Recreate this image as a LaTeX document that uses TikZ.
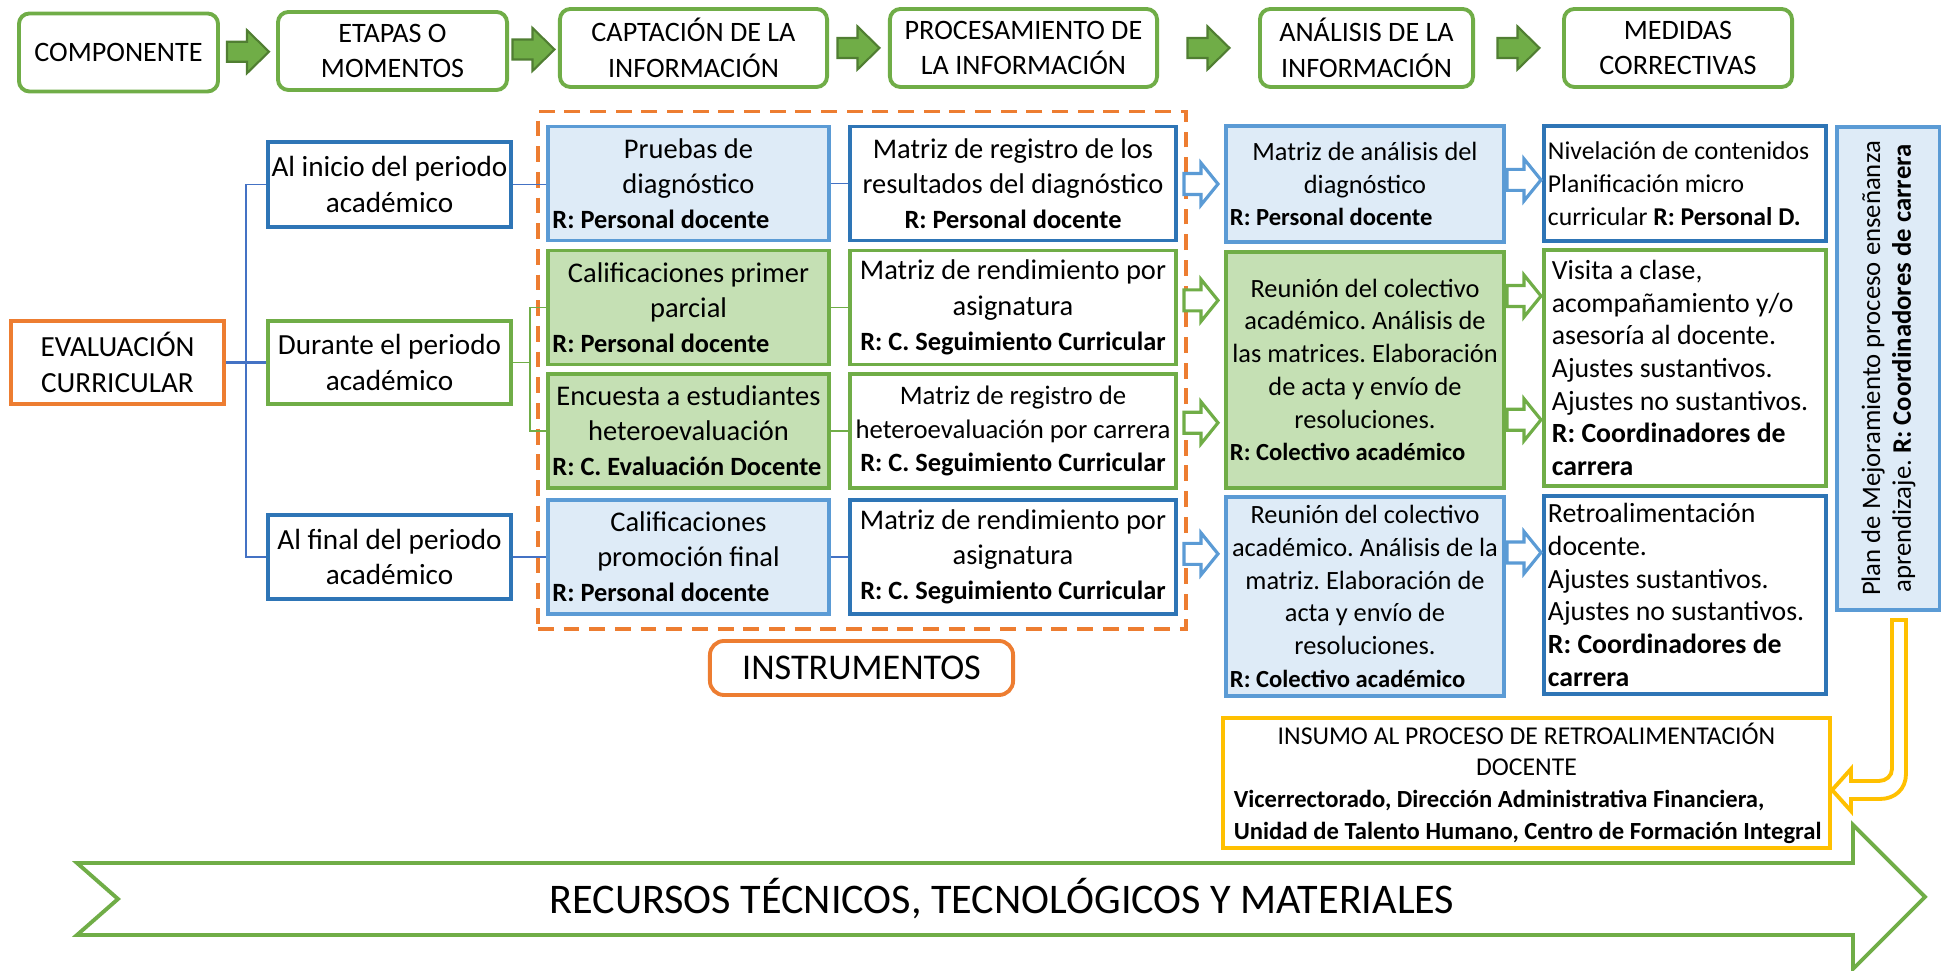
\documentclass[tikz,border=0pt]{standalone}
\usepackage{fontspec}
\setmainfont{Carlito}
\usetikzlibrary{calc,fit}
\definecolor{vgreen}{HTML}{70AD47}
\definecolor{dgreen}{HTML}{507E32}
\definecolor{lgreen}{HTML}{C5E0B4}
\definecolor{dblue}{HTML}{2E75B6}
\definecolor{mblue}{HTML}{5B9BD5}
\definecolor{lblue}{HTML}{DEEBF7}
\definecolor{cblue}{HTML}{4472C4}
\definecolor{vorange}{HTML}{ED7D31}
\definecolor{vyellow}{HTML}{FFC000}
\frenchspacing
\newcommand{\respl}[2][2.72cm]{\\\makebox[#1][l]{\fontsize{7.5}{10}\selectfont\bfseries #2}}
\newcommand{\respc}[1]{\\{\fontsize{7.5}{10}\selectfont\bfseries #1}}
\newcommand{\resps}[2][2.7cm]{\\\makebox[#1][l]{\fontsize{7}{9.3}\selectfont\bfseries #2}}
\begin{document}
\begin{tikzpicture}[x=0.01cm,y=-0.01cm,
  head/.style={draw=vgreen,line width=1.1pt,rounded corners=3pt,fill=white,align=center,
    minimum height=0.78cm,inner sep=1pt,font=\fontsize{8}{10.2}\selectfont},
  blockarr/.style={fill=vgreen,draw=dgreen,line width=0.6pt},
  lbox/.style={draw,line width=1.1pt,align=center,inner sep=1pt,minimum width=2.43cm,
    font=\fontsize{8.3}{10}\selectfont},
  cA/.style={draw,line width=1.1pt,minimum width=2.81cm,minimum height=1.14cm,
    inner sep=1pt,align=center,font=\fontsize{8.1}{10}\selectfont},
  cB/.style={cA,minimum width=3.26cm},
  cC/.style={draw,line width=1.1pt,minimum width=2.78cm,inner sep=1pt,
    align=center,font=\fontsize{7.5}{9.3}\selectfont},
  cD/.style={draw,line width=1.1pt,minimum width=2.82cm,inner sep=1pt,
    align=left,font=\fontsize{7.9}{9.3}\selectfont},
  bluef/.style={draw=mblue,fill=lblue},
  greenf/.style={draw=vgreen,fill=lgreen},
  bluew/.style={draw=dblue,fill=white},
  greenw/.style={draw=vgreen,fill=white},
  cline/.style={draw=cblue,line width=0.55pt},
  gline/.style={draw=vgreen,line width=0.55pt},
  hollow/.style={fill=white,line width=0.9pt},
  uarrow/.style={draw=vyellow,line width=1.1pt,fill=white},
  bigarr/.style={draw=vgreen,line width=1.1pt,fill=white}]
  \useasboundingbox (0,0) rectangle (1941,971);

  \node[head,minimum width=1.99cm] (comp) at (118.5,52.5) {COMPONENTE};
  \node[head,minimum width=2.29cm] (etapas) at (392.5,51) {ETAPAS O\\MOMENTOS};
  \node[head,minimum width=2.67cm] (capt) at (693.5,48) {CAPTACIÓN DE LA\\INFORMACIÓN};
  \node[head,minimum width=2.67cm] (proc) at (1023.5,48) {PROCESAMIENTO DE\\LA INFORMACIÓN};
  \node[head,minimum width=2.13cm] (anal) at (1366.5,48) {ANÁLISIS DE LA\\INFORMACIÓN};
  \node[head,minimum width=2.28cm] (med) at (1678,48) {MEDIDAS\\CORRECTIVAS};
  \foreach \a/\b in {comp/etapas,etapas/capt,capt/proc,proc/anal,anal/med}
    \draw[blockarr] ($(\a.east)!.5!(\b.west)$) ++(-21,-10) -- ++(20,0) -- ++(0,-11.5)
      -- ++(22,21.5) -- ++(-22,21.5) -- ++(0,-11.5) -- ++(-20,0) -- cycle;

  \node[lbox,draw=vorange,minimum width=2.13cm,minimum height=0.83cm] (eval) at (117.5,362.5) {EVALUACIÓN\\CURRICULAR};
  \node[lbox,draw=dblue,minimum height=0.85cm] (inicio) at (389.5,184.5) {Al inicio del periodo\\académico};
  \node[lbox,draw=vgreen,minimum height=0.83cm] (durante) at (389.5,362.5) {Durante el periodo\\académico};
  \node[lbox,draw=dblue,minimum height=0.84cm] (final) at (389.5,557) {Al final del periodo\\académico};

  \node[cA,bluef] (pruebas) at (688.5,183.5) {Pruebas de\\diagnóstico\respl{R: Personal docente}};
  \node[cA,greenf] (calif1) at (688.5,307.5) {Calificaciones primer\\parcial\respl{R: Personal docente}};
  \node[cA,greenf] (encuesta) at (688.5,431) {Encuesta a estudiantes\\heteroevaluación\respl{R: C. Evaluación Docente}};
  \node[cA,bluef] (califf) at (688.5,557) {Calificaciones\\promoción final\respl{R: Personal docente}};
  \node[cB,bluew] (matreg) at (1013,183.5) {Matriz de registro de los\\resultados del diagnóstico\respc{R: Personal docente}};
  \node[cB,greenw] (matrend1) at (1013,307.5) {Matriz de rendimiento por\\asignatura\respc{R: C. Seguimiento Curricular}};
  \node[cB,greenw,font=\fontsize{7.6}{9.6}\selectfont] (mathet) at (1013,431) {Matriz de registro de\\heteroevaluación por carrera\respc{R: C. Seguimiento Curricular}};
  \node[cB,bluew] (matrend2) at (1013,557) {Matriz de rendimiento por\\asignatura\respc{R: C. Seguimiento Curricular}};
  \node[draw=vorange,line width=1.1pt,dash pattern=on 4.5pt off 2.8pt,fit=(pruebas)(matrend2),
    inner xsep=0.08cm,inner ysep=0.13cm] (instr) {};
  \node[draw=vorange,line width=1.1pt,rounded corners=4pt,minimum width=3.03cm,minimum height=0.54cm,
    font=\fontsize{10.3}{12}\selectfont] (instlab) at (861.5,668) {INSTRUMENTOS};

  \coordinate (trunk) at (246,362.5);
  \coordinate (brk) at (530,362.5);
  \draw[cline] (inicio.west) -- (inicio.west -| trunk) -- (final.west -| trunk) -- (final.west);
  \draw[cline,line width=0.9pt] (eval.east) -- (durante.west);
  \draw[cline] (inicio.east) -- (inicio.east -| pruebas.west);
  \draw[cline] (final.east) -- (califf.west);
  \draw[gline] (durante.east) -- (brk);
  \draw[gline] (calif1.west) -- (calif1.west -| brk) -- (encuesta.west -| brk) -- (encuesta.west);
  \draw[cline] (pruebas.east) -- (matreg.west);
  \draw[gline] (calif1.east) -- (matrend1.west);
  \draw[gline] (encuesta.east) -- (mathet.west);
  \draw[cline] (califf.east) -- (matrend2.west);

  \node[cC,bluef,minimum height=1.16cm] (matan) at (1365,184) {Matriz de análisis del\\diagnóstico\resps{R: Personal docente}};
  \node[cC,greenf,minimum height=2.36cm] (reun1) at (1365,370) {Reunión del colectivo\\académico. Análisis de\\las matrices. Elaboración\\de acta y envío de\\resoluciones.\resps{R: Colectivo académico}};
  \node[cC,bluef,minimum height=1.99cm] (reun2) at (1365,596.5) {Reunión del colectivo\\académico. Análisis de la\\matriz. Elaboración de\\acta y envío de\\resoluciones.\resps{R: Colectivo académico}};
  \node[cD,bluew,minimum height=1.15cm,font=\fontsize{7.3}{9.3}\selectfont] (nivel) at (1685,183.5) {\makebox[2.74cm][l]{Nivelación de contenidos}\\Planificación micro\\curricular \textbf{R: Personal D.}};
  \node[cD,greenw,minimum height=2.36cm] (visita) at (1685,368) {\makebox[2.66cm][l]{Visita a clase,}\\acompañamiento y/o\\asesoría al docente.\\Ajustes sustantivos.\\Ajustes no sustantivos.\\\textbf{R: Coordinadores de}\\\textbf{carrera}};
  \node[cD,bluew,minimum height=1.98cm] (retro) at (1685,595) {\makebox[2.74cm][l]{Retroalimentación}\\docente.\\Ajustes sustantivos.\\Ajustes no sustantivos.\\\textbf{R: Coordinadores de}\\\textbf{carrera}};
  \node[draw=mblue,fill=lblue,line width=1.1pt,rotate=90,minimum width=4.83cm,minimum height=1.03cm,
    align=center,inner sep=1pt,font=\fontsize{7.6}{8.8}\selectfont] (plan) at (1888.5,368.5)
    {Plan de Mejoramiento proceso enseñanza\\aprendizaje. \textbf{R: Coordinadores de carrera}};

  \foreach \a/\b/\f/\c in {matreg/matan/0.5/mblue,matrend1/reun1/0.21/vgreen,mathet/reun1/0.72/vgreen,
      matrend2/reun2/0.29/mblue,matan/nivel/0.47/mblue,reun1/visita/0.2/vgreen,reun1/visita/0.716/vgreen,
      reun2/retro/0.29/mblue} {
    \coordinate (m) at ($(\a.east)!.5!(\b.west)$);
    \coordinate (t) at ($(\b.north west)!\f!(\b.south west)$);
    \draw[hollow,draw=\c] (t -| m) ++(-17,-10.5) -- ++(17,0) -- ++(0,-10.5) -- ++(17,21)
      -- ++(-17,21) -- ++(0,-10.5) -- ++(-17,0) -- cycle;
  }

  \node[draw=vyellow,line width=1.1pt,minimum width=6.07cm,minimum height=1.30cm,
    inner sep=1pt,align=center,font=\fontsize{7.3}{9}\selectfont] (insumo) at (1526.5,783)
    {INSUMO AL PROCESO DE RETROALIMENTACIÓN\\DOCENTE\resps[5.85cm]{Vicerrectorado, Dirección Administrativa Financiera,}\resps[5.85cm]{Unidad de Talento Humano, Centro de Formación Integral}};
  \draw[uarrow] (1892,620) -- (1906,620) -- (1906,774) .. controls (1906,789) and (1895,799) .. (1880,799)
    -- (1851,799) -- (1851,811) -- (insumo.east |- 0,790) -- (1851,769) -- (1851,781) -- (1879,781)
    .. controls (1886,781) and (1892,776) .. (1892,769) -- cycle;

  \draw[bigarr] (77,863) -- (1853,863) -- (1853,825) -- (1925,897) -- (1853,969) -- (1853,935)
    -- (77,935) -- (118,899) -- cycle;
  \node[font=\fontsize{12}{14}\selectfont] (recursos) at (1002,899) {RECURSOS TÉCNICOS, TECNOLÓGICOS Y MATERIALES};
\end{tikzpicture}
\end{document}
